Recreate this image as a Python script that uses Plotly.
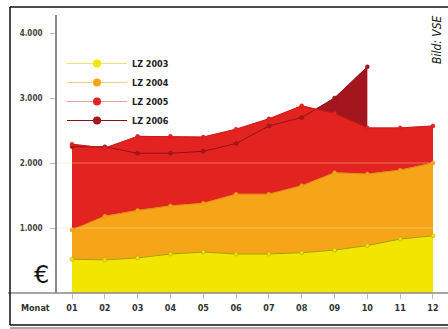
import plotly.graph_objects as go

months = ["01", "02", "03", "04", "05", "06", "07", "08", "09", "10", "11", "12"]
lz2003 = [520, 510, 540, 600, 630, 600, 600, 620, 660, 730, 830, 880]
lz2004 = [970, 1180, 1270, 1340, 1380, 1520, 1520, 1650, 1850, 1830, 1890, 2000]
lz2005 = [2290, 2230, 2410, 2410, 2400, 2520, 2680, 2880, 2760, 2540, 2540, 2570]
lz2006 = [2250, 2250, 2150, 2150, 2180, 2300, 2570, 2700, 3000, 3480]
ytick_vals = [1000, 2000, 3000, 4000]
ytick_text = ["1.000", "2.000", "3.000", "4.000"]

series = [
    ("LZ 2003", lz2003, "#f2e500", "#a89a10", "#ece27a"),
    ("LZ 2004", lz2004, "#f5a517", "#e0901a", "#f2d27a"),
    ("LZ 2005", lz2005, "#e2231f", "#c81c1c", "#e8a0a0"),
    ("LZ 2006", lz2006, "#a3161d", "#8e121a", "#8a1018"),
]

FONT = "DejaVu Sans Condensed, Liberation Sans Narrow, Arial Narrow, sans-serif"

fig = go.Figure()

# filled areas, back to front
for name, vals, fillc, linec, legc in reversed(series):
    fig.add_trace(go.Scatter(
        x=months[:len(vals)], y=vals, mode="lines", fill="tozeroy",
        fillcolor=fillc, line=dict(color=fillc, width=0.5),
        showlegend=False, hoverinfo="skip"))

# edge lines with markers
for name, vals, fillc, linec, legc in reversed(series):
    fig.add_trace(go.Scatter(
        x=months[:len(vals)], y=vals, mode="lines+markers",
        line=dict(color=linec, width=1),
        marker=dict(color=fillc, size=4, line=dict(color=linec, width=0.5)),
        showlegend=False))

# legend entries
for name, vals, fillc, linec, legc in series:
    fig.add_trace(go.Scatter(
        x=[None], y=[None], mode="lines+markers", name="<b>" + name + "</b>",
        line=dict(color=legc, width=1),
        marker=dict(color=fillc, size=8)))

W, H = 448, 329
L, R, T, B = 57, 0, 15, 36
pw, ph = W - L - R, H - T - B


def px(xp):
    return (xp - L) / pw


def py(yp):
    return (H - B - yp) / ph


shapes = []
# faint grid lines above fills
for v in [1000, 2000]:
    shapes.append(dict(type="line", xref="paper", yref="y", x0=0, x1=px(433),
                       y0=v, y1=v, line=dict(color="rgba(255,220,150,0.45)", width=1),
                       layer="above"))
# x axis baseline
shapes.append(dict(type="line", xref="paper", yref="paper", x0=px(8), x1=1.0,
                   y0=0, y1=0, line=dict(color="#8a8a8a", width=1.5), layer="above"))
# frame
shapes.append(dict(type="line", xref="paper", yref="paper", x0=px(10), x1=1.0,
                   y0=py(7), y1=py(7), line=dict(color="#111", width=1.5)))
shapes.append(dict(type="line", xref="paper", yref="paper", x0=px(10), x1=px(10),
                   y0=py(7), y1=py(325), line=dict(color="#111", width=1.5)))
shapes.append(dict(type="line", xref="paper", yref="paper", x0=px(10), x1=1.0,
                   y0=py(325), y1=py(325), line=dict(color="#111", width=1.5)))
shapes.append(dict(type="line", xref="paper", yref="paper", x0=px(10), x1=1.0,
                   y0=py(328), y1=py(328), line=dict(color="#555", width=1)))

annotations = [
    dict(text="€", xref="paper", yref="paper", x=px(41), y=py(275),
         xanchor="center", yanchor="middle",
         showarrow=False, font=dict(family="DejaVu Sans", size=24, color="#111")),
    dict(text="<b>Monat</b>", xref="paper", yref="paper", x=px(35), y=py(308),
         xanchor="center", yanchor="middle",
         showarrow=False, font=dict(family=FONT, size=9, color="#333")),
    dict(text="<i>Bild: VSE</i>", xref="paper", yref="paper", x=px(437), y=py(40),
         xanchor="center", yanchor="middle",
         showarrow=False, textangle=-90,
         font=dict(family="Liberation Sans Narrow, DejaVu Sans Condensed", size=12, color="#222")),
]

fig.update_layout(
    width=W, height=H,
    margin=dict(l=L, r=R, t=T, b=B),
    paper_bgcolor="white", plot_bgcolor="white",
    showlegend=True,
    legend=dict(x=px(62), y=py(49), xanchor="left", yanchor="top",
                bgcolor="rgba(0,0,0,0)", itemwidth=60,
                font=dict(family=FONT, size=9, color="#222"),
                tracegroupgap=0),
    shapes=shapes,
    annotations=annotations,
    xaxis=dict(type="category", range=[-15 / 32.8, 11 + 15 / 32.8],
               showgrid=False, showline=False, zeroline=False,
               ticks="outside", ticklen=5, tickcolor="#bbb",
               ticklabelstandoff=1,
               tickfont=dict(family=FONT, size=9, color="#333"),
               tickprefix="<b>", ticksuffix="</b>"),
    yaxis=dict(range=[0, 4277], showgrid=False, zeroline=False,
               showline=True, linecolor="#8a8a8a", linewidth=2,
               tickvals=ytick_vals, ticktext=["<b>" + t + "</b>" for t in ytick_text],
               ticks="outside", ticklen=5, tickcolor="#bbb",
               ticklabelstandoff=6,
               tickfont=dict(family=FONT, size=8, color="#444")),
)

fig.write_html("out.html")
